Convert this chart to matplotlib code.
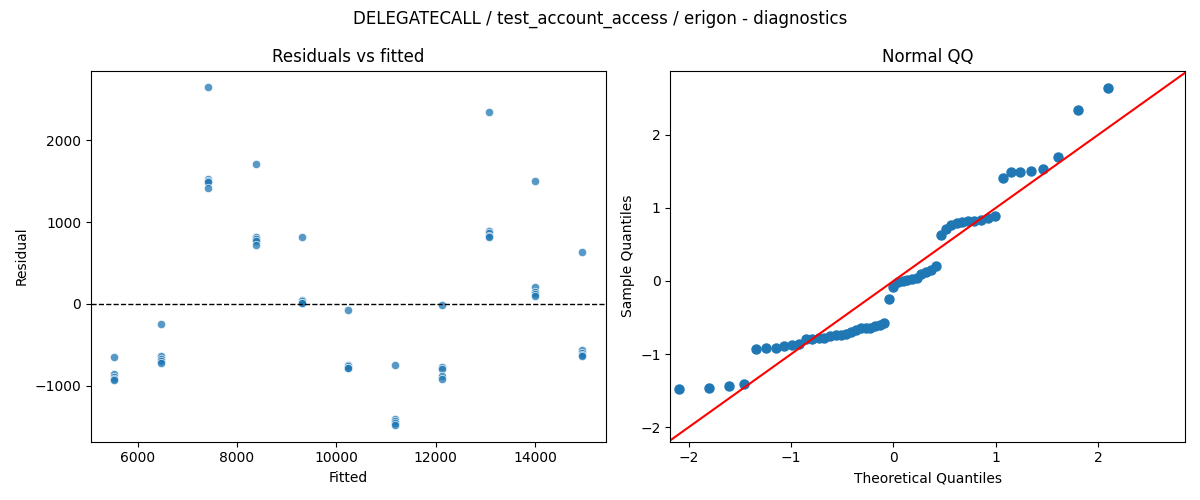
import numpy as np
import matplotlib
matplotlib.use('Agg')
import matplotlib.pyplot as plt
from statistics import NormalDist

fitted_levels = [5530, 6476, 7423, 8383, 9315, 10242, 11188, 12134, 13081, 14007, 14953]
residual_groups = [
    [-645, -860, -890, -920, -930],
    [-245, -640, -670, -705, -720],
    [2645, 1530, 1505, 1490, 1415],
    [1705, 820, 795, 765, 720],
    [820, 45, 30, 15, 5],
    [-75, -745, -760, -780, -790],
    [-745, -1410, -1435, -1460, -1480],
    [-10, -775, -795, -880, -915],
    [2350, 890, 865, 835, 815],
    [1500, 210, 145, 120, 95],
    [635, -570, -600, -620, -640],
]

fitted = np.repeat(fitted_levels, [len(g) for g in residual_groups])
resid = np.concatenate([np.array(g, dtype=float) for g in residual_groups])

fig, axes = plt.subplots(1, 2, figsize=(12, 5), dpi=100)
fig.suptitle('DELEGATECALL / test_account_access / erigon - diagnostics')

# Residuals vs fitted
ax = axes[0]
ax.scatter(fitted, resid, s=36, color='#1f77b4', alpha=0.75, edgecolor='white', linewidth=0.6)
ax.axhline(0, color='black', linestyle='--', linewidth=1)
ax.set_xlabel('Fitted')
ax.set_ylabel('Residual')
ax.set_title('Residuals vs fitted')

# Normal QQ of standardised residuals
ax = axes[1]
n = len(resid)
sample = np.sort((resid - resid.mean()) / resid.std(ddof=1))
nd = NormalDist()
theo = np.array([nd.inv_cdf(i / (n + 1)) for i in range(1, n + 1)])
ax.plot(theo, sample, 'o', color='#1f77b4', markersize=6.5)
ax.set_xlim(-2.18, 2.85)
ax.set_ylim(-2.2, 2.88)
ax.axline((0, 0), slope=1, color='red')
ax.set_xlabel('Theoretical Quantiles')
ax.set_ylabel('Sample Quantiles')
ax.set_title('Normal QQ')

plt.tight_layout()
plt.savefig('out.png')
